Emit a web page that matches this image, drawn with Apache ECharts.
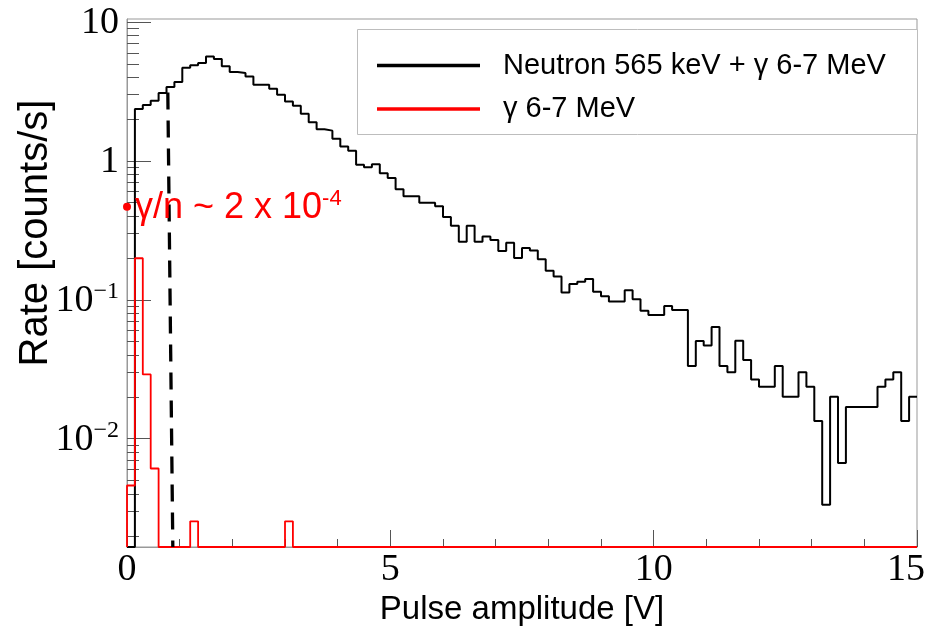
<!DOCTYPE html>
<html><head><meta charset="utf-8">
<script src="https://cdn.jsdelivr.net/npm/echarts@6/dist/echarts.min.js"></script>
<style>html,body{margin:0;padding:0;background:#fff}#c{width:944px;height:629px}</style>
</head><body><div id="c"></div>
<script>
// ---- data ----
const xRange = [0, 15];
const binWidth = 0.15;                 // histogram bin width [V]
const yRange = [0.00166, 10.5];        // log axis range [counts/s]
const seriesNames = ['Neutron 565 keV + γ 6-7 MeV', 'γ 6-7 MeV'];

const neutronGammaRates = [
  0, 2.36, 2.52, 2.71, 3.08, 3.40, 3.69, 4.68, 4.87, 5.06,
  5.65, 5.41, 4.79, 4.36, 4.29, 4.05, 3.53, 3.53, 3.30, 2.99,
  2.68, 2.49, 2.18, 1.90, 1.69, 1.65, 1.44, 1.27, 1.18, 0.936,
  0.901, 0.947, 0.815, 0.754, 0.625, 0.556, 0.556, 0.500, 0.500, 0.471,
  0.395, 0.341, 0.262, 0.341, 0.262, 0.285, 0.269, 0.224, 0.257, 0.200,
  0.236, 0.226, 0.196, 0.162, 0.147, 0.113, 0.130, 0.135, 0.141, 0.114,
  0.106, 0.0972, 0.0972, 0.117, 0.101, 0.0833, 0.0776, 0.0776, 0.0901, 0.0843,
  0.0843, 0.0334, 0.0505, 0.0469, 0.0636, 0.0334, 0.0301, 0.0506, 0.0369, 0.0267,
  0.0236, 0.0236, 0.0334, 0.0200, 0.0200, 0.0301, 0.0236, 0.0134, 0.00334, 0.0200,
  0.00668, 0.0169, 0.0169, 0.0169, 0.0169, 0.0236, 0.0267, 0.0301, 0.0134, 0.0200
];
const gammaRates = [
  0.0046, 0.199, 0.029, 0.0061, 0, 0, 0, 0, 0.00254, 0,
  0, 0, 0, 0, 0, 0, 0, 0, 0, 0,
  0.00254, 0, 0, 0, 0, 0, 0, 0, 0, 0,
  0, 0, 0, 0, 0, 0, 0, 0, 0, 0,
  0, 0, 0, 0, 0, 0, 0, 0, 0, 0,
  0, 0, 0, 0, 0, 0, 0, 0, 0, 0,
  0, 0, 0, 0, 0, 0, 0, 0, 0, 0,
  0, 0, 0, 0, 0, 0, 0, 0, 0, 0,
  0, 0, 0, 0, 0, 0, 0, 0, 0, 0,
  0, 0, 0, 0, 0, 0, 0, 0, 0, 0
];
const cutLineX = [0.775, 0.87];
const cutLineY = [3.1, 0.00166];
const ratioPoint = [0, 0.468];
const ratioText = 'γ/n ~ 2 x 10';
const ratioExponent = '-4';
const xTickInterval = 5;
const yMajorTicks = [0.01, 0.1, 1, 10];
const yTickLabels = ['{b|10}{s|−2}', '{b|10}{s|−1}', '{b|1}', '{b|10}'];
const yMinorTicks = [0.002,0.003,0.004,0.005,0.006,0.007,0.008,0.009,
  0.02,0.03,0.04,0.05,0.06,0.07,0.08,0.09,
  0.2,0.3,0.4,0.5,0.6,0.7,0.8,0.9,
  2,3,4,5,6,7,8,9];
const xTitle = 'Pulse amplitude [V]';
const yTitle = 'Rate [counts/s]';

// ---- build histogram outlines (empty bins drawn on the axis floor, like ROOT) ----
function outline(vals) {
  const pts = [[xRange[0], yRange[0]]];
  vals.forEach((v, i) => {
    const y = v > 0 ? v : yRange[0];
    pts.push([xRange[0] + i * binWidth, y], [xRange[0] + (i + 1) * binWidth, y]);
  });
  return pts;
}

const chart = echarts.init(document.getElementById('c'), null, {renderer: 'canvas'});
const sans = '"Liberation Sans", Arial, sans-serif';
const serif = '"Liberation Serif", "Times New Roman", serif';
const tickColor = '#555';
const frameColor = '#999';

chart.setOption({
  animation: false,
  backgroundColor: '#fff',
  grid: {left: 127, right: 27, top: 19, bottom: 82, show: true, borderColor: frameColor, borderWidth: 1,
         containLabel: false, outerBoundsMode: 'none'},
  xAxis: {
    type: 'value', min: xRange[0], max: xRange[1], interval: xTickInterval,
    axisLine: {show: true, lineStyle: {color: frameColor, width: 1}},
    axisTick: {show: true, inside: true, length: 17, lineStyle: {color: tickColor, width: 1}},
    minorTick: {show: true, splitNumber: 5, length: 8, lineStyle: {color: tickColor, width: 1}},
    axisLabel: {
      margin: 4, color: '#000',
      formatter: function (v) { return v === xRange[1] ? '{r|' + v + '}' : '{n|' + v + '}'; },
      rich: {
        n: {fontFamily: serif, fontSize: 38, color: '#000'},
        r: {fontFamily: serif, fontSize: 38, color: '#000', padding: [0, 22, 0, 0]}
      }
    },
    splitLine: {show: false},
    name: xTitle, nameLocation: 'middle', nameGap: 40,
    nameTextStyle: {fontFamily: sans, fontSize: 33, color: '#000'}
  },
  yAxis: [{
    type: 'log', logBase: 10, min: yRange[0], max: yRange[1],
    axisLine: {show: true, lineStyle: {color: frameColor, width: 1}},
    axisTick: {show: true, inside: true, length: 24, customValues: yMajorTicks, lineStyle: {color: tickColor, width: 1}},
    axisLabel: {
      customValues: yMajorTicks, margin: 8, color: '#000',
      formatter: function (v) {
        let best = 0, d = Infinity;
        yMajorTicks.forEach((t, i) => { const dd = Math.abs(Math.log10(t) - Math.log10(v)); if (dd < d) { d = dd; best = i; } });
        return yTickLabels[best];
      },
      rich: {
        b: {fontFamily: serif, fontSize: 38, color: '#000', lineHeight: 40, verticalAlign: 'bottom'},
        s: {fontFamily: serif, fontSize: 24, color: '#000', lineHeight: 22, verticalAlign: 'top'}
      }
    },
    splitLine: {show: false}
  }, {
    type: 'log', logBase: 10, min: yRange[0], max: yRange[1], position: 'left',
    axisLine: {show: false},
    axisTick: {show: true, inside: true, length: 12, customValues: yMinorTicks, lineStyle: {color: tickColor, width: 1}},
    axisLabel: {show: false},
    splitLine: {show: false}
  }],
  legend: {
    data: seriesNames, orient: 'vertical', left: 377, top: 49.5,
    itemWidth: 103, itemHeight: 3.5, itemGap: 11.5, icon: 'rect', selectedMode: false, padding: 0,
    textStyle: {fontFamily: sans, fontSize: 29, color: '#000', lineHeight: 32, padding: [0, 0, 0, 18]},
    z: 6
  },
  graphic: [
    {type: 'rect', shape: {x: 357.5, y: 29.5, width: 560, height: 105},
     style: {fill: '#fff', stroke: '#bdbdbd', lineWidth: 1}, z: 3},
    {type: 'text', x: 36, y: 233, rotation: Math.PI / 2, z: 5,
     style: {text: yTitle, fontFamily: sans, fontSize: 40, fill: '#000', align: 'center', verticalAlign: 'middle'}}
  ],
  series: [
    {name: seriesNames[0], type: 'line', data: outline(neutronGammaRates), symbol: 'none',
     color: '#000', lineStyle: {color: '#000', width: 2}, z: 2},
    {name: seriesNames[1], type: 'line', data: outline(gammaRates), symbol: 'none',
     color: '#ff0000', lineStyle: {color: '#ff0000', width: 1.8}, z: 2},
    {name: 'cut', type: 'line', data: cutLineX.map((x, i) => [x, cutLineY[i]]), symbol: 'none',
     lineStyle: {color: '#000', width: 3.3, type: [17, 11]}, z: 4},
    {name: 'ratio', type: 'scatter', data: [ratioPoint], symbol: 'circle', symbolSize: 8, clip: false,
     itemStyle: {color: '#ff0000', opacity: 1}, z: 5,
     label: {show: true, position: 'right', distance: 4, opacity: 1,
       formatter: '{m|' + ratioText + '}{s|' + ratioExponent + '}',
       rich: {
         m: {fontFamily: sans, fontSize: 36, color: '#ff0000', lineHeight: 38, verticalAlign: 'bottom'},
         s: {fontFamily: sans, fontSize: 22, color: '#ff0000', lineHeight: 15, verticalAlign: 'top'}
       }}}
  ]
});
</script></body></html>
